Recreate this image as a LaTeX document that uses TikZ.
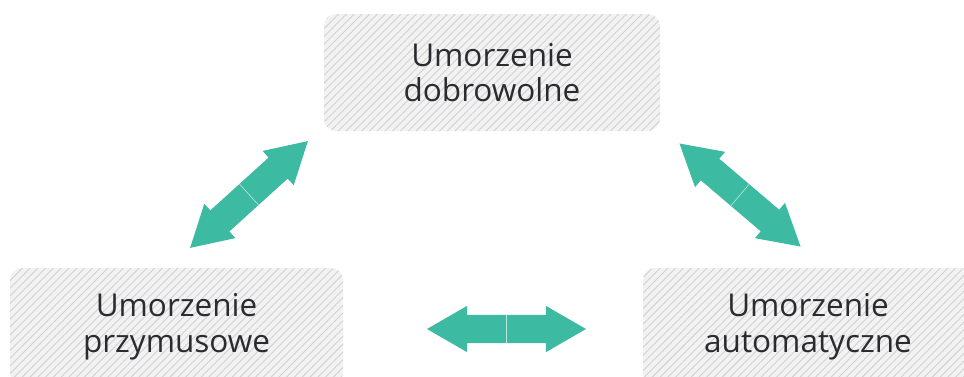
\documentclass[tikz,border=0pt]{standalone}
\usepackage{fontspec}
\setmainfont{Open Sans}
\usetikzlibrary{patterns.meta,shapes.arrows}
\definecolor{teal}{HTML}{3DBAA2}
\definecolor{txt}{HTML}{2B2A2E}
\begin{document}
\begin{tikzpicture}[x=1pt,y=-1pt,
  box/.style={rectangle, rounded corners=12pt, align=center, text=txt,
    font=\fontsize{31.5}{35.5}\selectfont, inner sep=0pt,
    preaction={fill=gray!10},
    pattern={Lines[angle=45,distance=5.5pt,line width=0.9pt]},
    pattern color=gray!36},
  arr/.style={double arrow, fill=teal, draw=none, inner sep=0pt,
    minimum height=159pt, minimum width=46pt, double arrow head extend=9pt,
    double arrow tip angle=60, text height=28pt},
  divider/.style={white!65!teal, line width=0.6pt}]
\useasboundingbox (0,0) rectangle (964,376);
\begin{scope}
\clip (0,0) rectangle (964,376);
\node[box, minimum width=336pt, minimum height=117pt] (top) at (492,72.5) {Umorzenie\\dobrowolne};
\node[box, minimum width=333pt, minimum height=117pt] (left) at (176.5,326.5) {Umorzenie\\przymusowe};
\node[box, minimum width=330pt, minimum height=117pt] (right) at (808,326.5) {Umorzenie\\automatyczne};
\end{scope}
\node[arr, rotate=42.2] (a1) at (249,194.5) {};
\node[arr, rotate=-40.4] (a2) at (740,195) {};
\node[arr] (a3) at (506.5,329) {};
\draw[divider] (a1.center) ++(42.2-90:-14pt) -- ++(42.2-90:28pt);
\draw[divider] (a2.center) ++(-40.4-90:-14pt) -- ++(-40.4-90:28pt);
\draw[divider] (a3.center) ++(-90:-14pt) -- ++(-90:28pt);
\end{tikzpicture}
\end{document}
